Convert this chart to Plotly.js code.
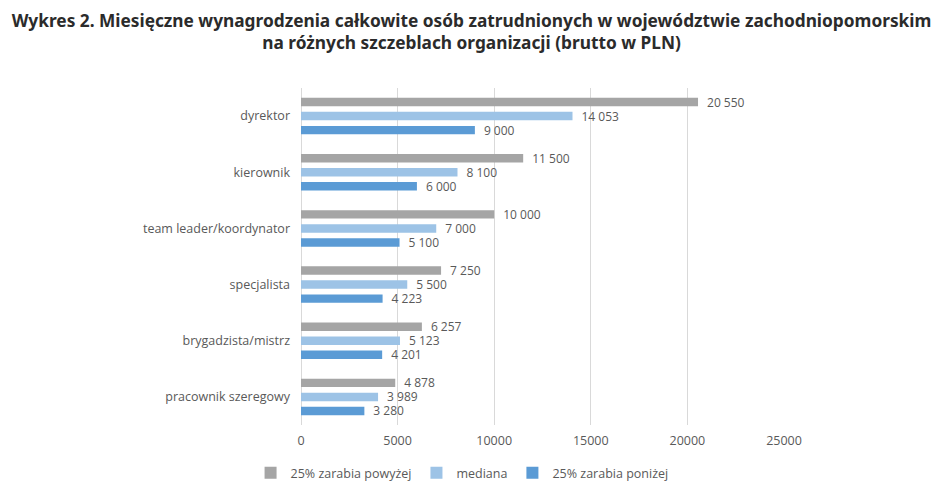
<!DOCTYPE html>
<html><head><meta charset="utf-8">
<script src="https://cdn.plot.ly/plotly-3.0.1.min.js"></script>
<style>html,body{margin:0;padding:0;background:#fff}#chart{width:943px;height:497px}</style>
</head><body><div id="chart"></div>
<script>
const categories = ["dyrektor","kierownik","team leader/koordynator","specjalista","brygadzista/mistrz","pracownik szeregowy"];
const seriesNames = ["25% zarabia powyżej","mediana","25% zarabia poniżej"];
const top25 = [20550, 11500, 10000, 7250, 6257, 4878];
const median = [14053, 8100, 7000, 5500, 5123, 3989];
const bottom25 = [9000, 6000, 5100, 4223, 4201, 3280];
const xTicks = [0, 5000, 10000, 15000, 20000, 25000];
const colors = ["#a5a5a5", "#9dc3e6", "#5b9bd5"];

function fmt(v){ return "\u2002" + String(v).replace(/\B(?=(\d{3})+(?!\d))/g, "\u00a0"); }

const FONT = "Open Sans, Noto Sans, sans-serif";
const GREY = "#595959";
const data = [top25, median, bottom25].map((vals, i) => ({
  type: "bar", orientation: "h",
  name: seriesNames[i],
  y: categories, x: vals,
  text: vals.map(fmt),
  textposition: "outside",
  constraintext: "none",
  textfont: {family: FONT, size: 12, color: GREY},
  cliponaxis: false,
  marker: {color: colors[i]},
  hoverinfo: "x+name"
}));

const layout = {
  width: 943, height: 497,
  margin: {l: 301, r: 159, t: 88, b: 72},
  paper_bgcolor: "#fff", plot_bgcolor: "#fff",
  barmode: "group", bargap: 0.25, bargroupgap: 0.4,
  title: {
    text: "<b>Wykres 2. Miesięczne wynagrodzenia całkowite osób zatrudnionych w województwie zachodniopomorskim<br>na różnych szczeblach organizacji (brutto w PLN)</b>",
    font: {family: "Noto Sans, sans-serif", size: 17.3, color: "#2b2b2b"},
    xref: "container", x: 0.5, xanchor: "center",
    yref: "container", y: 0.946, yanchor: "top"
  },
  xaxis: {
    range: [0, 25000], tickvals: xTicks, ticktext: xTicks.map(String),
    showgrid: true, gridcolor: "#d9d9d9", gridwidth: 1,
    zeroline: true, zerolinecolor: "#d9d9d9", zerolinewidth: 1,
    showline: false, ticks: "", ticklabelstandoff: 6,
    tickfont: {family: FONT, size: 12.5, color: GREY}
  },
  yaxis: {
    autorange: "reversed", type: "category",
    showgrid: false, zeroline: false, showline: false, ticks: "", ticklabelstandoff: 10,
    tickfont: {family: FONT, size: 12.5, color: GREY}
  },
  showlegend: true,
  legend: {
    orientation: "h", xref: "container", x: 0.49, xanchor: "center",
    yref: "container", y: 0.018, yanchor: "bottom",
    font: {family: FONT, size: 12.5, color: GREY},
    traceorder: "normal", itemwidth: 30
  }
};

Plotly.newPlot("chart", data, layout, {displayModeBar: false, staticPlot: true});
</script></body></html>
